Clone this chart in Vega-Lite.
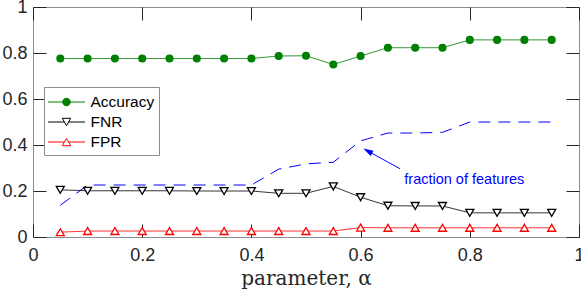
{
  "$schema": "https://vega.github.io/schema/vega-lite/v6.json",
  "width": 546,
  "height": 230,
  "autosize": {"type": "none"},
  "padding": {"left": 33, "top": 7, "right": 2, "bottom": 53},
  "background": "white",
  "config": {
    "view": {"stroke": "#8c8c8c", "strokeWidth": 1},
    "axis": {
      "domain": false,
      "grid": false,
      "tickColor": "#262626",
      "tickWidth": 1,
      "tickSize": -13,
      "labelFont": "Liberation Sans",
      "labelFontSize": 18,
      "labelColor": "#262626",
      "labelFlush": false,
      "labelOverlap": false
    },
    "legend": {
      "title": null,
      "orient": "none",
      "legendX": 11,
      "legendY": 80,
      "padding": 4,
      "strokeColor": "#8c8c8c",
      "fillColor": "#ffffff",
      "symbolSize": 441,
      "symbolStrokeWidth": 1,
      "symbolOpacity": 1,
      "symbolOffset": 7.5,
      "labelOffset": 13,
      "rowPadding": 0,
      "labelFont": "Liberation Sans",
      "labelFontSize": 15.5,
      "labelColor": "#000000"
    }
  },
  "resolve": {"scale": {"shape": "independent", "fill": "independent", "stroke": "independent"}},
  "datasets": {
    "metrics": [
      {"alpha": 0.05, "series": "Accuracy", "value": 0.776},
      {"alpha": 0.10, "series": "Accuracy", "value": 0.776},
      {"alpha": 0.15, "series": "Accuracy", "value": 0.776},
      {"alpha": 0.20, "series": "Accuracy", "value": 0.776},
      {"alpha": 0.25, "series": "Accuracy", "value": 0.776},
      {"alpha": 0.30, "series": "Accuracy", "value": 0.776},
      {"alpha": 0.35, "series": "Accuracy", "value": 0.776},
      {"alpha": 0.40, "series": "Accuracy", "value": 0.776},
      {"alpha": 0.45, "series": "Accuracy", "value": 0.787},
      {"alpha": 0.50, "series": "Accuracy", "value": 0.788},
      {"alpha": 0.55, "series": "Accuracy", "value": 0.750},
      {"alpha": 0.60, "series": "Accuracy", "value": 0.787},
      {"alpha": 0.65, "series": "Accuracy", "value": 0.823},
      {"alpha": 0.70, "series": "Accuracy", "value": 0.823},
      {"alpha": 0.75, "series": "Accuracy", "value": 0.823},
      {"alpha": 0.80, "series": "Accuracy", "value": 0.857},
      {"alpha": 0.85, "series": "Accuracy", "value": 0.857},
      {"alpha": 0.90, "series": "Accuracy", "value": 0.857},
      {"alpha": 0.95, "series": "Accuracy", "value": 0.857},
      {"alpha": 0.05, "series": "FNR", "value": 0.205},
      {"alpha": 0.10, "series": "FNR", "value": 0.201},
      {"alpha": 0.15, "series": "FNR", "value": 0.201},
      {"alpha": 0.20, "series": "FNR", "value": 0.201},
      {"alpha": 0.25, "series": "FNR", "value": 0.201},
      {"alpha": 0.30, "series": "FNR", "value": 0.200},
      {"alpha": 0.35, "series": "FNR", "value": 0.200},
      {"alpha": 0.40, "series": "FNR", "value": 0.200},
      {"alpha": 0.45, "series": "FNR", "value": 0.190},
      {"alpha": 0.50, "series": "FNR", "value": 0.190},
      {"alpha": 0.55, "series": "FNR", "value": 0.220},
      {"alpha": 0.60, "series": "FNR", "value": 0.173},
      {"alpha": 0.65, "series": "FNR", "value": 0.136},
      {"alpha": 0.70, "series": "FNR", "value": 0.135},
      {"alpha": 0.75, "series": "FNR", "value": 0.135},
      {"alpha": 0.80, "series": "FNR", "value": 0.105},
      {"alpha": 0.85, "series": "FNR", "value": 0.105},
      {"alpha": 0.90, "series": "FNR", "value": 0.105},
      {"alpha": 0.95, "series": "FNR", "value": 0.105},
      {"alpha": 0.05, "series": "FPR", "value": 0.021},
      {"alpha": 0.10, "series": "FPR", "value": 0.026},
      {"alpha": 0.15, "series": "FPR", "value": 0.026},
      {"alpha": 0.20, "series": "FPR", "value": 0.026},
      {"alpha": 0.25, "series": "FPR", "value": 0.026},
      {"alpha": 0.30, "series": "FPR", "value": 0.026},
      {"alpha": 0.35, "series": "FPR", "value": 0.026},
      {"alpha": 0.40, "series": "FPR", "value": 0.026},
      {"alpha": 0.45, "series": "FPR", "value": 0.026},
      {"alpha": 0.50, "series": "FPR", "value": 0.026},
      {"alpha": 0.55, "series": "FPR", "value": 0.026},
      {"alpha": 0.60, "series": "FPR", "value": 0.041},
      {"alpha": 0.65, "series": "FPR", "value": 0.040},
      {"alpha": 0.70, "series": "FPR", "value": 0.040},
      {"alpha": 0.75, "series": "FPR", "value": 0.040},
      {"alpha": 0.80, "series": "FPR", "value": 0.040},
      {"alpha": 0.85, "series": "FPR", "value": 0.040},
      {"alpha": 0.90, "series": "FPR", "value": 0.040},
      {"alpha": 0.95, "series": "FPR", "value": 0.040}
    ],
    "features": [
      {"alpha": 0.05, "fraction": 0.138},
      {"alpha": 0.10, "fraction": 0.226},
      {"alpha": 0.15, "fraction": 0.226},
      {"alpha": 0.20, "fraction": 0.226},
      {"alpha": 0.25, "fraction": 0.226},
      {"alpha": 0.30, "fraction": 0.226},
      {"alpha": 0.35, "fraction": 0.226},
      {"alpha": 0.40, "fraction": 0.226},
      {"alpha": 0.45, "fraction": 0.295},
      {"alpha": 0.50, "fraction": 0.318},
      {"alpha": 0.55, "fraction": 0.325},
      {"alpha": 0.60, "fraction": 0.418},
      {"alpha": 0.65, "fraction": 0.452},
      {"alpha": 0.70, "fraction": 0.452},
      {"alpha": 0.75, "fraction": 0.455},
      {"alpha": 0.80, "fraction": 0.500},
      {"alpha": 0.85, "fraction": 0.500},
      {"alpha": 0.90, "fraction": 0.500},
      {"alpha": 0.95, "fraction": 0.500}
    ],
    "note": [{"label": "fraction of features"}]
  },
  "layer": [
    {
      "data": {"name": "features"},
      "mark": {"type": "line", "color": "#0000ff", "strokeWidth": 1, "strokeDash": [12, 8]},
      "encoding": {
        "x": {"field": "alpha", "type": "quantitative", "scale": {"domain": [0, 1], "nice": false},
          "axis": {"orient": "top", "labels": false, "title": null, "values": [0, 0.2, 0.4, 0.6, 0.8, 1]}},
        "y": {"field": "fraction", "type": "quantitative", "scale": {"domain": [0, 1], "nice": false},
          "axis": {"orient": "right", "labels": false, "title": null, "values": [0, 0.2, 0.4, 0.6, 0.8, 1]}}
      }
    },
    {
      "data": {"name": "metrics"},
      "mark": {"type": "line", "strokeWidth": 0.8},
      "encoding": {
        "x": {"field": "alpha", "type": "quantitative",
          "axis": {"orient": "bottom", "title": "parameter, α", "values": [0, 0.2, 0.4, 0.6, 0.8, 1], "format": "~g",
            "labelPadding": 22, "titleFont": "DejaVu Serif", "titleFontSize": 20, "titleFontWeight": "normal",
            "titleColor": "#262626", "titlePadding": 4}},
        "y": {"field": "value", "type": "quantitative",
          "axis": {"orient": "left", "title": null, "values": [0, 0.2, 0.4, 0.6, 0.8, 1], "format": "~g", "labelPadding": 19}},
        "stroke": {"field": "series", "type": "nominal",
          "scale": {"domain": ["Accuracy", "FNR", "FPR"], "range": ["#008000", "#000000", "#ff0000"]}, "legend": null},
        "detail": {"field": "series"}
      }
    },
    {
      "data": {"name": "metrics"},
      "mark": {"type": "point", "size": 64, "strokeWidth": 1.3, "opacity": 1},
      "encoding": {
        "x": {"field": "alpha", "type": "quantitative", "axis": null},
        "y": {"field": "value", "type": "quantitative", "axis": null},
        "stroke": {"field": "series", "type": "nominal",
          "scale": {"domain": ["Accuracy", "FNR", "FPR"], "range": ["#008000", "#000000", "#ff0000"]}, "legend": null},
        "fill": {"field": "series", "type": "nominal",
          "scale": {"domain": ["Accuracy", "FNR", "FPR"], "range": ["#008000", "#ffffff", "#ffffff"]}, "legend": null},
        "shape": {"field": "series", "type": "nominal",
          "scale": {"domain": ["Accuracy", "FNR", "FPR"], "range": ["M0.85,0A0.85,0.85,0,1,1,-0.85,0A0.85,0.85,0,1,1,0.85,0Z", "triangle-down", "triangle-up"]},
          "legend": null}
      }
    },
    {
      "data": {"name": "metrics"},
      "mark": {"type": "point", "opacity": 0},
      "encoding": {
        "x": {"field": "alpha", "type": "quantitative", "axis": null},
        "y": {"field": "value", "type": "quantitative", "axis": null},
        "fill": {"field": "series", "type": "nominal",
          "scale": {"domain": ["Accuracy", "FNR", "FPR"], "range": ["#008000", "#ffffff", "#ffffff"]},
          "legend": {"title": null}},
        "stroke": {"field": "series", "type": "nominal",
          "scale": {"domain": ["Accuracy", "FNR", "FPR"], "range": ["#008000", "#000000", "#ff0000"]},
          "legend": {"title": null}},
        "shape": {"field": "series", "type": "nominal",
          "scale": {"domain": ["Accuracy", "FNR", "FPR"], "range": [
            "M-1.762,0H1.762M0.36,0A0.36,0.36,0,1,1,-0.36,0A0.36,0.36,0,1,1,0.36,0Z",
            "M-1.762,0H-0.2M0.2,0H1.762M-0.4,-0.35L0.4,-0.35L0,0.35Z",
            "M-1.762,0H-0.2M0.2,0H1.762M0,-0.35L0.4,0.35L-0.4,0.35Z"]},
          "legend": {"title": null}}
      }
    },
    {
      "data": {"name": "note"},
      "mark": {"type": "rule", "color": "#0000ff", "strokeWidth": 1},
      "encoding": {
        "x": {"datum": 0.672, "type": "quantitative", "axis": null},
        "y": {"datum": 0.297, "type": "quantitative", "axis": null},
        "x2": {"datum": 0.613},
        "y2": {"datum": 0.374}
      }
    },
    {
      "data": {"name": "note"},
      "mark": {"type": "point", "shape": "M0,-1L0.6,1L-0.6,1Z", "filled": true, "color": "#0000ff", "size": 100, "angle": 298.6, "opacity": 1},
      "encoding": {
        "x": {"datum": 0.613, "type": "quantitative", "axis": null},
        "y": {"datum": 0.374, "type": "quantitative", "axis": null}
      }
    },
    {
      "data": {"name": "note"},
      "mark": {"type": "text", "color": "#0000ff", "font": "Liberation Sans", "fontSize": 14.5, "align": "left", "baseline": "alphabetic"},
      "encoding": {
        "x": {"datum": 0.68, "type": "quantitative", "axis": null},
        "y": {"datum": 0.232, "type": "quantitative", "axis": null},
        "text": {"field": "label"}
      }
    }
  ]
}
